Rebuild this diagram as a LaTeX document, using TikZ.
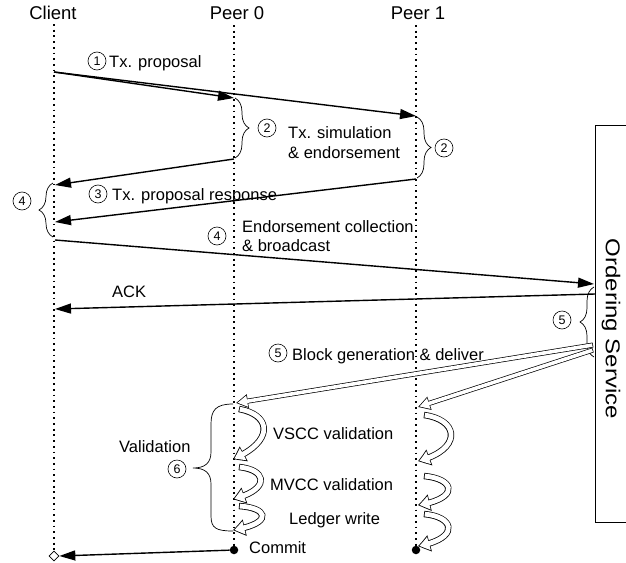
\documentclass[tikz,border=0pt]{standalone}
\usepackage{fontspec}
\setmainfont{Liberation Sans}
\usetikzlibrary{arrows.meta,bending,decorations.pathreplacing,calc,shapes.geometric}
\begin{document}
\begin{tikzpicture}[x=1pt,y=-1pt,
  hdr/.style={font=\fontsize{18.5}{20}\selectfont, inner sep=0pt, anchor=base},
  lbl/.style={font=\fontsize{16.5}{19}\selectfont, inner sep=0pt, anchor=base west},
  stepnum/.style={circle, draw, line width=0.6pt, inner sep=0pt, minimum size=18pt,
    font=\fontsize{12.5}{12.5}\selectfont},
  lifeline/.style={line width=1.8pt, dash pattern=on 1.8pt off 3.9pt},
  msg/.style={line width=1.4pt, -{Triangle[length=16pt,width=10pt]}},
  % outlined (hollow) arrows: a black body with a white core laid over it
  hollow/.style={
    preaction={draw=black, line width=5pt, shorten <=0pt, shorten >=0pt,
      -{Triangle[length=12pt, width=13pt]}},
    draw=white, line width=3.6pt, shorten <=0.7pt, shorten >=1.5pt,
    -{Triangle[length=9.8pt, width=10.6pt]}},
  hollowc/.style={
    preaction={draw=black, line width=6.4pt, shorten <=0pt, shorten >=0pt,
      -{Triangle[bend, length=12pt, width=16pt]}},
    draw=white, line width=4.8pt, shorten <=0.8pt, shorten >=1.45pt,
    -{Triangle[bend, length=9.8pt, width=13pt]}},
  brc/.style={line width=0.7pt, decorate, decoration={brace, amplitude=14pt}},
  dot/.style={circle, fill, inner sep=0pt, minimum size=8.5pt}
]
\useasboundingbox (0,0) rectangle (626,562);
\clip (0,0) rectangle (626,562);

% ordering service
\draw[line width=0.8pt] (660,125) -- (595,125) -- (595,522) -- (660,522);
\node[font=\fontsize{20}{20}\selectfont, rotate=-90, inner sep=0pt] (os) at (611,329)
  {\scalebox{1.2}[1]{Ordering Service}};

% headers and lifelines
\node[hdr] (client) at (53,19) {Client};
\node[hdr] (peer0) at (237,19) {Peer 0};
\node[hdr] (peer1) at (418,19) {Peer 1};
\coordinate (cTop) at (54,24);
\coordinate (cBot) at (54,552);
\coordinate (p0Top) at (234,25);
\coordinate (p0Bot) at (234,546);
\coordinate (p1Top) at (416,25);
\coordinate (p1Bot) at (416,546);
\draw[lifeline] (cTop) -- (cBot);
\draw[lifeline] (p0Top) -- (p0Bot);
\draw[lifeline] (p1Top) -- (p1Bot);

% labels
\node[stepnum] (n1) at (97,61) {1};
\node[lbl] (t1) at (109,67) {Tx. proposal};
\node[stepnum] (n2a) at (267,128) {2};
\node[lbl] (t2a) at (288,138) {Tx. simulation};
\node[lbl] (t2b) at (288,158) {\& endorsement};
\node[stepnum] (n2b) at (444,148) {2};
\node[stepnum] (n3) at (98,194) {3};
\node[lbl] (t3) at (112,200) {Tx. proposal response};
\node[stepnum] (n4a) at (22,201) {4};
\node[stepnum] (n4b) at (217,236) {4};
\node[lbl] (t4a) at (242,232) {Endorsement collection};
\node[lbl] (t4b) at (242,251) {\& broadcast};
\node[lbl] (tack) at (112,297) {ACK};
\node[stepnum] (n5a) at (562,320) {5};
\node[stepnum] (n5b) at (278,353) {5};
\node[lbl] (t5) at (292,360) {Block generation \& deliver};
\node[lbl] (tval) at (119,452) {Validation};
\node[stepnum] (n6) at (177,469) {6};
\node[lbl] (tv1) at (273,439) {VSCC validation};
\node[lbl] (tv2) at (270,490) {MVCC validation};
\node[lbl] (tv3) at (289,524) {Ledger write};
\node[lbl] (tc) at (249,553) {Commit};

% messages
\coordinate (m1s) at (54,72);
\coordinate (m1a) at (234,98);
\coordinate (m1b) at (416,116);
\draw[msg] (m1s) -- (m1a);
\draw[msg] (m1s) -- (m1b);
\coordinate (m3as) at (234,159);
\coordinate (m3ae) at (55,185);
\coordinate (m3bs) at (416,179);
\coordinate (m3be) at (55,222);
\draw[msg] (m3as) -- (m3ae);
\draw[msg] (m3bs) -- (m3be);
\coordinate (m4s) at (55,240);
\coordinate (m4e) at (594,284);
\draw[msg] (m4s) -- (m4e);
\coordinate (acks) at (595,294);
\coordinate (acke) at (55,309);
\draw[msg] (acks) -- (acke);

% braces
\draw[brc] (235,98) -- (235,158);
\draw[brc] (417,117) -- (417,178);
\draw[brc] (53,237) -- (53,183);
\draw[brc] (594,357) -- (594,287);
\draw[line width=0.7pt] (233,404) .. controls (216,404) and (211,410) .. (211,424)
  -- (211,452) .. controls (211,463) and (205,468) .. (193,468)
  .. controls (205,468) and (211,473) .. (211,484)
  -- (211,516) .. controls (211,528) and (216,531) .. (233,531);

% block delivery
\coordinate (bs1) at (593,345);
\coordinate (bs2) at (593,350);
\coordinate (b0) at (236,403);
\coordinate (b1) at (418,407);
\draw[hollow] (bs1) -- (b0);
\draw[hollow] (bs2) -- (b1);

% validation steps
\draw[hollowc] (239,409) .. controls (272,415) and (274,442) .. (233,459);
\draw[hollowc] (239,467) .. controls (268,470) and (270,490) .. (233,499);
\draw[hollowc] (239,506) .. controls (270,508) and (272,524) .. (233,530);
\draw[hollowc] (424,415) .. controls (460,420) and (462,450) .. (418,461);
\draw[hollowc] (424,476) .. controls (456,479) and (459,499) .. (418,505);
\draw[hollowc] (424,514) .. controls (456,517) and (459,539) .. (418,546);

% commit
\node[dot] (p0c) at (234,550) {};
\node[dot] (p1c) at (416,550) {};
\node[diamond, draw, fill=white, line width=0.7pt, inner sep=0pt, minimum size=10pt] (cd) at (54,556) {};
\draw[msg] (p0c) -- (cd.east);
\end{tikzpicture}
\end{document}
